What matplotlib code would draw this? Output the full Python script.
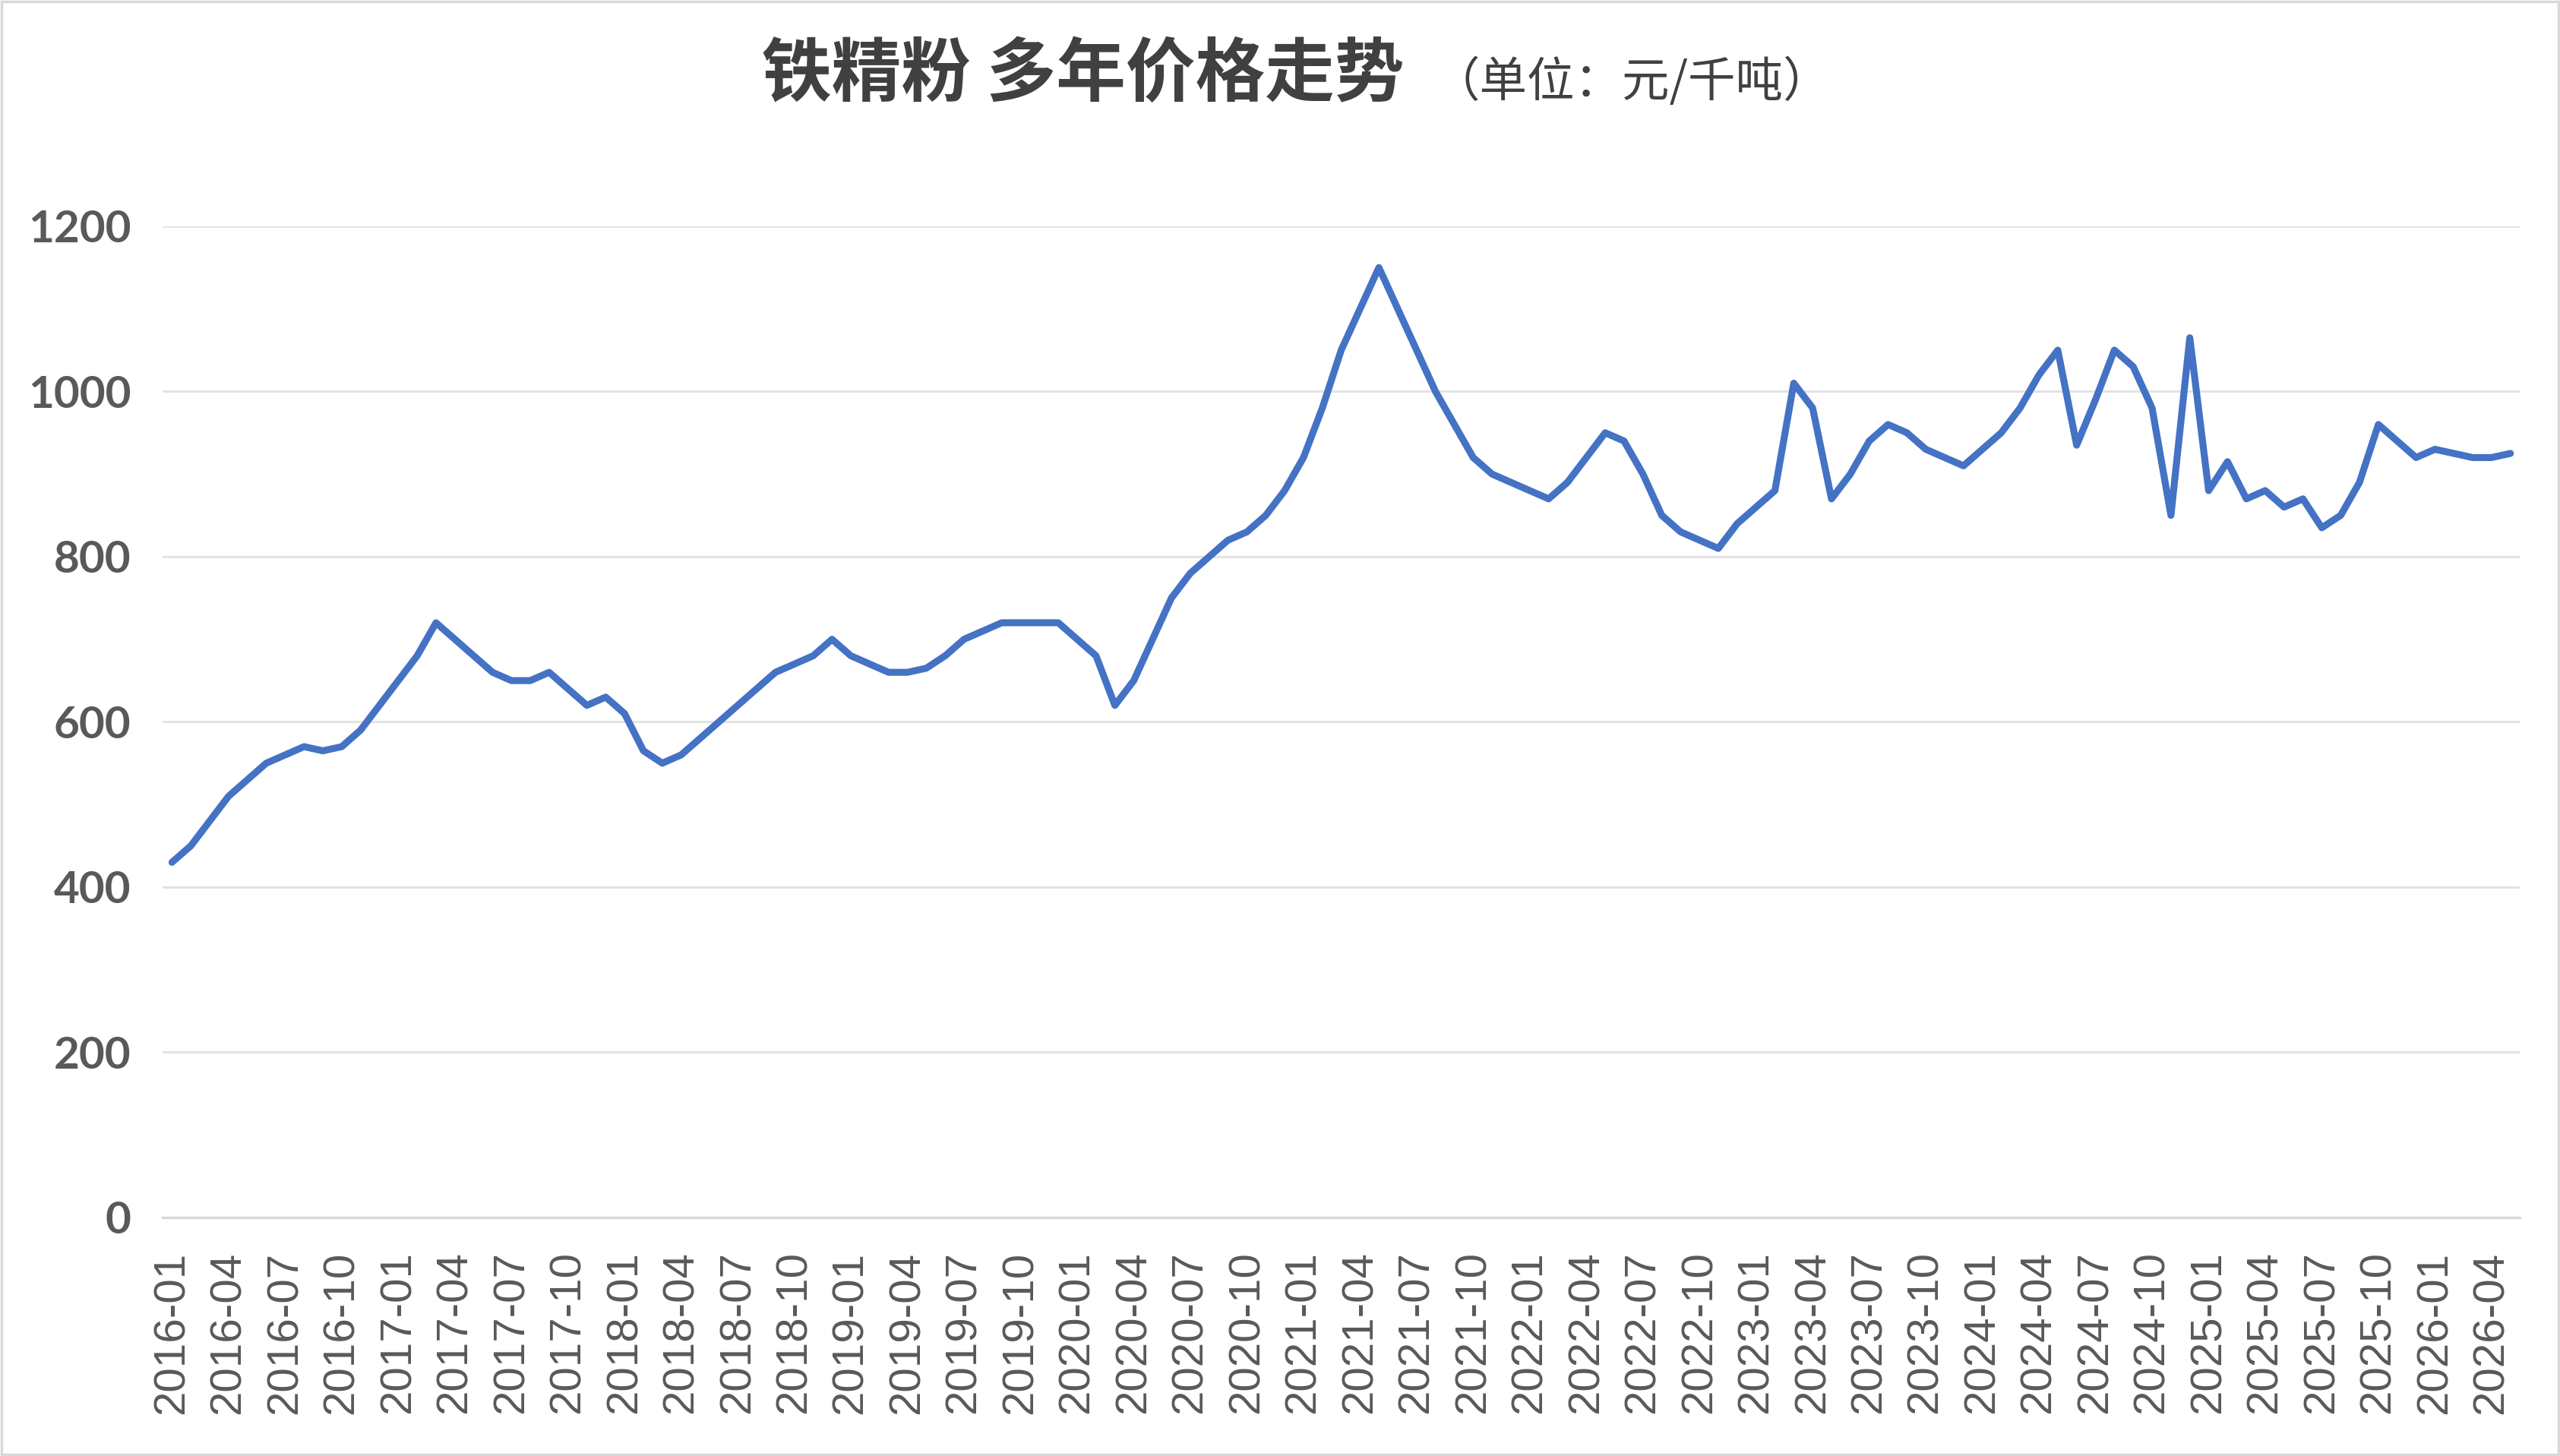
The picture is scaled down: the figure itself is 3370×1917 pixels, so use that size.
import matplotlib
matplotlib.use("Agg")
import matplotlib.pyplot as plt
from matplotlib.patches import Rectangle

plt.rcParams['font.family'] = ['Liberation Sans', 'Noto Sans CJK SC', 'DejaVu Sans']

# monthly price series (only the turning points of the line are listed)
dates = ["2016-01", "2016-02", "2016-04", "2016-06", "2016-08", "2016-09", "2016-10",
         "2016-11", "2017-02", "2017-03", "2017-06", "2017-07", "2017-08", "2017-09",
         "2017-11", "2017-12", "2018-01", "2018-02", "2018-03", "2018-04", "2018-09",
         "2018-11", "2018-12", "2019-01", "2019-03", "2019-04", "2019-05", "2019-06",
         "2019-07", "2019-09", "2019-12", "2020-02", "2020-03", "2020-04", "2020-06",
         "2020-07", "2020-09", "2020-10", "2020-11", "2020-12", "2021-01", "2021-02",
         "2021-03", "2021-04", "2021-05", "2021-06", "2021-07", "2021-08", "2021-09",
         "2021-10", "2021-11", "2022-02", "2022-03", "2022-05", "2022-06", "2022-07",
         "2022-08", "2022-09", "2022-11", "2022-12", "2023-02", "2023-03", "2023-04",
         "2023-05", "2023-06", "2023-07", "2023-08", "2023-09", "2023-10", "2023-12",
         "2024-02", "2024-03", "2024-04", "2024-05", "2024-06", "2024-07", "2024-08",
         "2024-09", "2024-10", "2024-11", "2024-12", "2025-01", "2025-02", "2025-03",
         "2025-04", "2025-05", "2025-06", "2025-07", "2025-08", "2025-09", "2025-10",
         "2025-12", "2026-01", "2026-03", "2026-04", "2026-05"]
prices = [430, 450, 510, 550, 570, 565, 570,
          590, 680, 720, 660, 650, 650, 660,
          620, 630, 610, 565, 550, 560, 660,
          680, 700, 680, 660, 660, 665, 680,
          700, 720, 720, 680, 620, 650, 750,
          780, 820, 830, 850, 880, 920, 980,
          1050, 1100, 1150, 1100, 1050, 1000, 960,
          920, 900, 870, 890, 950, 940, 900,
          850, 830, 810, 840, 880, 1010, 980,
          870, 900, 940, 960, 950, 930, 910,
          950, 980, 1020, 1050, 935, 990, 1050,
          1030, 980, 850, 1065, 880, 915, 870,
          880, 860, 870, 835, 850, 890, 960,
          920, 930, 920, 920, 925]

tick_labels = ["%d-%02d" % (2016 + k // 4, 1 + 3 * (k % 4)) for k in range(42)]
y_ticks = [0, 200, 400, 600, 800, 1000, 1200]

title_main = "铁精粉 多年价格走势"
title_unit = "（单位：元/千吨）"


def month_index(s):
    y, m = s.split("-")
    return (int(y) - 2016) * 12 + int(m) - 1


x = [month_index(d) for d in dates]
tick_pos = [month_index(t) for t in tick_labels]

fig = plt.figure(figsize=(33.7, 19.17), dpi=100)
ax = fig.add_axes([0.0635, 0.1638, 0.9208, 0.6808])

ax.plot(x, prices, color="#4472C4", lw=6.6, solid_joinstyle="round", solid_capstyle="round")

ax.set_xlim(-0.5, 124.5)
ax.set_ylim(0, 1200)
ax.set_yticks(y_ticks)
ax.set_yticklabels([str(v) for v in y_ticks], fontfamily="Lato", fontweight="bold",
                   fontsize=42, color="#595959")
ax.set_xticks(tick_pos)
ax.set_xticklabels(tick_labels, rotation=90, fontsize=42, color="#595959")
ax.tick_params(axis="both", length=0)
ax.tick_params(axis="y", pad=30)
ax.tick_params(axis="x", pad=32)

ax.grid(axis="y", color="#e3e3e3", lw=2.2)
ax.set_axisbelow(True)
for sp in ["top", "right", "left"]:
    ax.spines[sp].set_visible(False)
ax.spines["bottom"].set_color("#d9d9d9")
ax.spines["bottom"].set_linewidth(2.4)

fig.text(0.5485, 0.9485, title_main, ha="right", va="center", fontsize=66,
         fontweight="bold", color="#404040", family=["Noto Sans CJK SC"])
fig.text(0.5595, 0.9435, title_unit, ha="left", va="center", fontsize=45,
         color="#404040", family=["Noto Sans CJK SC"])

fig.patches.append(Rectangle((0.0005, 0.0008), 0.999, 0.9984, transform=fig.transFigure,
                             fill=False, edgecolor="#d9d9d9", lw=2.5))

fig.savefig("out.png", dpi=100, facecolor="white")
